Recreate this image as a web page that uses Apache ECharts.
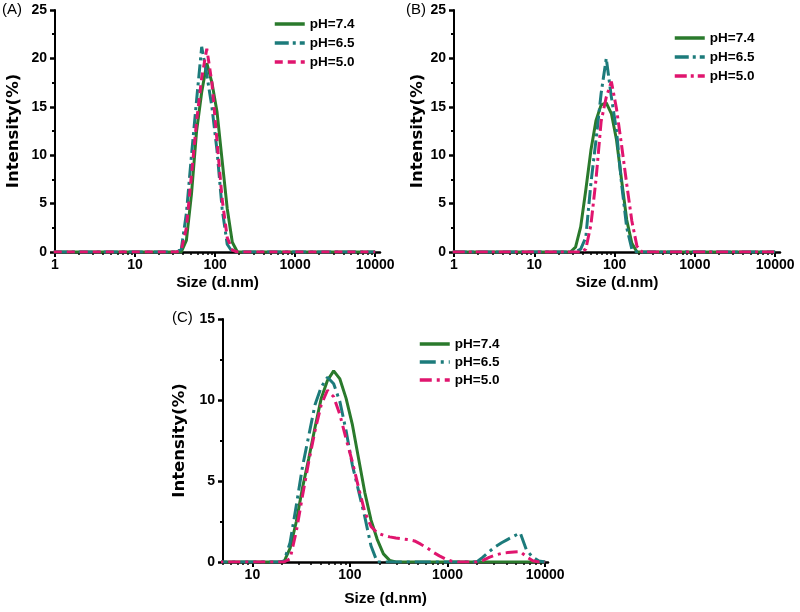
<!DOCTYPE html>
<html><head><meta charset="utf-8">
<script src="https://cdn.jsdelivr.net/npm/echarts@6/dist/echarts.min.js"></script>
<style>html,body{margin:0;padding:0;background:#fff}#c{width:800px;height:612px}</style>
</head><body><div id="c"></div>
<script>
// Size classes (d.nm), Malvern bins from 0.9649 to 10000
const SIZES = [0.9649,1.117,1.294,1.499,1.736,2.01,2.328,2.696,3.122,3.615,4.187,4.849,5.615,6.503,7.531,8.721,10.1,11.7,13.54,15.69,18.17,21.04,24.36,28.21,32.67,37.84,43.82,50.75,58.77,68.06,78.82,91.28,105.7,122.4,141.8,164.2,190.1,220.2,255,295.3,342,396.1,458.7,531.2,615.1,712.4,825,955.4,1106,1281,1484,1718,1990,2305,2669,3091,3580,4145,4801,5560,6439,7456,8635,10000];

// Panel A intensities (%)
const A_PH74 = [0,0,0,0,0,0,0,0,0,0,0,0,0,0,0,0,0,0,0,0,0,0,0, 0,0,0,1.2,6.0,12.5,16.5,19.5,17.5,14.5,9.5,4.5,1.0,0, 0,0,0,0,0,0,0,0,0,0,0,0,0,0,0,0,0,0,0,0,0,0,0,0,0,0,0];
const A_PH65 = [0,0,0,0,0,0,0,0,0,0,0,0,0,0,0,0,0,0,0,0,0,0,0, 0,0,0.3,4.0,10.0,15.7,21.2,18.3,15.0,10.5,4.5,0.8,0,0, 0,0,0,0,0,0,0,0,0,0,0,0,0,0,0,0,0,0,0,0,0,0,0,0,0,0,0];
const A_PH50 = [0,0,0,0,0,0,0,0,0,0,0,0,0,0,0,0,0,0,0,0,0,0,0, 0,0,0.2,2.5,8.0,13.5,18.0,21.0,17.5,11.5,5.5,1.5,0.2,0, 0,0,0,0,0,0,0,0,0,0,0,0,0,0,0,0,0,0,0,0,0,0,0,0,0,0,0];
// Panel B
const B_PH74 = [0,0,0,0,0,0,0,0,0,0,0,0,0,0,0,0,0,0,0,0,0,0,0, 0,0.5,2.6,6.4,10.5,13.6,15.2,15.4,14.3,11.6,7.4,3.3,0.9,0,0, 0,0,0,0,0,0,0,0,0,0,0,0,0,0,0,0,0,0,0,0,0,0,0,0,0,0];
const B_PH65 = [0,0,0,0,0,0,0,0,0,0,0,0,0,0,0,0,0,0,0,0,0,0,0, 0,0,0.3,1.5,7.1,11.6,16.4,20.0,16.0,12.5,7.0,2.5,0.3,0,0, 0,0,0,0,0,0,0,0,0,0,0,0,0,0,0,0,0,0,0,0,0,0,0,0,0,0];
const B_PH50 = [0,0,0,0,0,0,0,0,0,0,0,0,0,0,0,0,0,0,0,0,0,0,0, 0,0,0,0.3,2.8,7.5,13.5,16.0,17.6,14.8,11.0,7.0,3.2,0.6,0, 0,0,0,0,0,0,0,0,0,0,0,0,0,0,0,0,0,0,0,0,0,0,0,0,0,0];
// Panel C
const C_PH74 = [0,0,0,0,0,0,0,0,0,0,0,0,0,0,0,0,0,0,0,0, 0,0,0.85,2.5,4.6,6.4,8.3,10.1,11.2,11.8,11.3,10.1,8.5,6.4,4.3,2.6,1.4,0.5,0.1,0, 0,0,0,0,0,0,0,0,0,0,0,0,0,0,0,0,0,0,0,0,0,0,0,0];
const C_PH65 = [0,0,0,0,0,0,0,0,0,0,0,0,0,0,0,0,0,0,0,0, 0,0.05,1.2,3.5,5.9,7.8,9.7,10.8,11.4,11.0,9.9,8.1,6.0,4.4,2.8,1.0,0, 0,0,0,0,0,0,0,0,0,0,0,0,0,0,0,0, 0.3,0.64,0.95,1.19,1.4,1.6,1.8,0.74,0.3,0.06,0];
const C_PH50 = [0,0,0,0,0,0,0,0,0,0,0,0,0,0,0,0,0,0,0,0, 0,0,0.2,1.9,4.1,6.2,8.1,9.7,10.6,10.2,9.1,7.6,6.2,4.6,3.1,2.2,1.8,1.65,1.55,1.48,1.43,1.38,1.3,1.1,0.88,0.6,0.38,0.18,0.05,0, 0,0,0, 0.1,0.29,0.43,0.53,0.58,0.62,0.64,0.33,0.08,0,0];

const LEGEND_NAMES = ['pH=7.4','pH=6.5','pH=5.0'];
const PANEL_LABELS = ['(A)','(B)','(C)'];
const X_MAJOR_AB = [1,10,100,1000,10000];
const X_MINOR_AB = [2,3,4,5,6,7,8,9,20,30,40,50,60,70,80,90,200,300,400,500,600,700,800,900,2000,3000,4000,5000,6000,7000,8000,9000];
const X_MAJOR_C = [10,100,1000,10000];
const X_MINOR_C = [5,6,7,8,9,20,30,40,50,60,70,80,90,200,300,400,500,600,700,800,900,2000,3000,4000,5000,6000,7000,8000,9000];

const FF = '"Liberation Sans", Arial, sans-serif';
const TICK_FS = 14;
const LEG_FS = 13.5;
const XNAME_FS = 15.5;
const PANEL_FS = 15;
const YNAME_FF = '"DejaVu Sans", "Liberation Sans", sans-serif';

const GREEN='#2a7a2c', TEAL='#1c7b7b', PINK='#e0156e';

const PANELS = [
  {grid:{left:55,top:10,width:325,height:242}, xmin:1, xmax:11500, ymax:25, major:X_MAJOR_AB, minor:X_MINOR_AB,
   data:[A_PH74,A_PH65,A_PH50], dash:['solid',[14,4,3,4],[8,5]], xGap:23, yGap:33,
   legend:{left:273,top:16,gap:3}, label:{left:2,top:2}},
  {grid:{left:454,top:10,width:326,height:242}, xmin:1, xmax:11500, ymax:25, major:X_MAJOR_AB, minor:X_MINOR_AB,
   data:[B_PH74,B_PH65,B_PH50], dash:['solid',[14,4,3,4],[12,4,3,4]], xGap:23, yGap:26,
   legend:{left:673,top:30,gap:3}, label:{left:406,top:2}},
  {grid:{left:223,top:319,width:325,height:243}, xmin:5, xmax:10700, ymax:15, major:X_MAJOR_C, minor:X_MINOR_C,
   data:[C_PH74,C_PH65,C_PH50], dash:['solid',[16,5,3,5],[12,5,3,5]], xGap:29, yGap:35,
   legend:{left:418,top:336,gap:2}, label:{left:172,top:310}}
];
const COLORS=[GREEN,TEAL,PINK];

const option = {animation:false, backgroundColor:'#fff', title:[], grid:[], xAxis:[], yAxis:[], legend:[], series:[]};
PANELS.forEach((p,g)=>{
  option.grid.push(Object.assign({outerBoundsMode:'none', containLabel:false}, p.grid));
  option.title.push({text:PANEL_LABELS[g], left:p.label.left, top:p.label.top, padding:0,
    textStyle:{fontWeight:'normal', fontSize:PANEL_FS, fontFamily:FF, color:'#000'}});
  option.xAxis.push({type:'log', logBase:10, gridIndex:g, position:'bottom', min:p.xmin, max:p.xmax,
    axisLine:{show:true, lineStyle:{color:'#000', width:2.5}},
    axisTick:{show:true, customValues:p.major, length:5, lineStyle:{color:'#000', width:2}},
    axisLabel:{show:true, customValues:p.major, margin:6, color:'#000', fontWeight:'bold', fontSize:TICK_FS, fontFamily:FF,
      formatter:v=>String(Math.round(v))},
    splitLine:{show:false}, minorTick:{show:false},
    name:'Size (d.nm)', nameLocation:'middle', nameGap:p.xGap,
    nameTextStyle:{color:'#000', fontWeight:'bold', fontSize:XNAME_FS, fontFamily:FF}});
  option.xAxis.push({type:'log', logBase:10, gridIndex:g, position:'bottom', min:p.xmin, max:p.xmax,
    axisLine:{show:false}, axisLabel:{show:false}, splitLine:{show:false},
    axisTick:{show:true, customValues:p.minor, length:3, lineStyle:{color:'#000', width:1.5}}});
  option.yAxis.push({type:'value', gridIndex:g, min:0, max:p.ymax, interval:5, position:'left',
    axisLine:{show:true, lineStyle:{color:'#000', width:2}},
    axisTick:{show:true, length:5, lineStyle:{color:'#000', width:2.5}},
    minorTick:{show:true, splitNumber:2, length:3, lineStyle:{color:'#000', width:2}},
    axisLabel:{color:'#000', fontWeight:'bold', fontSize:TICK_FS, fontFamily:FF, margin:8},
    splitLine:{show:false},
    name:'Intensity(%)', nameLocation:'middle', nameGap:p.yGap,
    nameTextStyle:{color:'#000', fontWeight:'bold', fontSize:16.5, fontFamily:YNAME_FF}});
  const names = LEGEND_NAMES.map(n=>PANEL_LABELS[g]+'|'+n);
  option.legend.push({orient:'vertical', left:p.legend.left, top:p.legend.top, padding:0,
    itemWidth:30, itemHeight:14, itemGap:p.legend.gap, data:names, selectedMode:false,
    lineStyle:{width:3.5}, itemStyle:{opacity:0},
    formatter:n=>n.split('|')[1],
    textStyle:{color:'#000', fontWeight:'bold', fontSize:LEG_FS, fontFamily:FF, lineHeight:16}});
  p.data.forEach((vals,k)=>{
    option.series.push({type:'line', name:names[k], xAxisIndex:2*g, yAxisIndex:g,
      data:SIZES.map((s,i)=>[s,vals[i]]), symbol:'none', showSymbol:false, clip:true,
      lineStyle:{color:COLORS[k], width:3, type:p.dash[k]}, itemStyle:{color:COLORS[k]}, z:2+k});
  });
});
const chart = echarts.init(document.getElementById('c'), null, {renderer:'canvas'});
chart.setOption(option);
</script></body></html>
